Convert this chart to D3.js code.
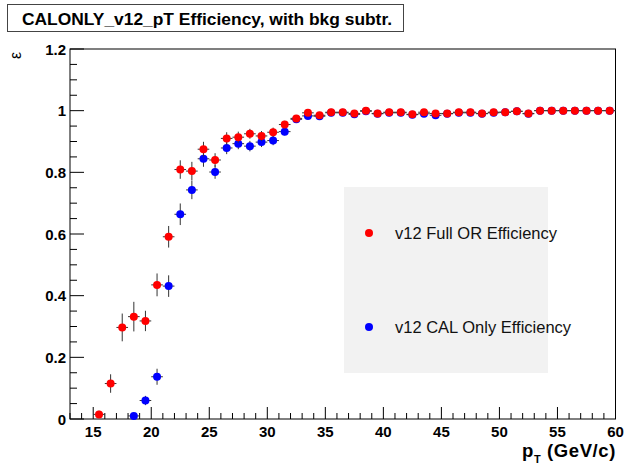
<!DOCTYPE html>
<html><head><meta charset="utf-8">
<script src="https://cdn.jsdelivr.net/npm/d3@7"></script>
<style>body{margin:0;background:#fff;} svg{display:block;}</style>
</head><body>
<script>
const ptBins = [15.5,16.5,17.5,18.5,19.5,20.5,21.5,22.5,23.5,24.5,25.5,26.5,27.5,28.5,29.5,30.5,31.5,32.5,33.5,34.5,35.5,36.5,37.5,38.5,39.5,40.5,41.5,42.5,43.5,44.5,45.5,46.5,47.5,48.5,49.5,50.5,51.5,52.5,53.5,54.5,55.5,56.5,57.5,58.5,59.5];
const fullOR = [0.015,0.115,0.297,0.332,0.318,0.435,0.591,0.809,0.804,0.875,0.840,0.910,0.914,0.925,0.918,0.930,0.955,0.975,0.993,0.985,0.995,0.995,0.991,1.000,0.991,0.995,0.995,0.988,0.995,0.991,0.991,0.995,0.995,0.991,0.995,0.995,0.998,0.991,1.000,1.000,1.000,1.000,1.000,1.000,1.000];
const fullORErr = [0.012,0.030,0.045,0.048,0.033,0.037,0.035,0.030,0.030,0.024,0.022,0.020,0.018,0.016,0.016,0.015,0.012,0.008,0.005,0.005,0.004,0.004,0.004,0.003,0.004,0.004,0.004,0.004,0.004,0.004,0.004,0.004,0.004,0.004,0.004,0.004,0.003,0.004,0.002,0.002,0.002,0.002,0.002,0.002,0.002];
const calOnly = [null,null,null,0.010,0.060,0.137,0.431,0.664,0.743,0.844,0.801,0.879,0.893,0.885,0.898,0.903,0.932,0.972,0.983,0.982,0.993,0.993,0.988,0.998,0.990,0.993,0.993,0.987,0.990,0.985,0.990,0.993,0.993,0.990,0.993,0.995,0.998,0.990,1.000,1.000,1.000,1.000,1.000,1.000,1.000];
const calOnlyErr = [0,0,0,0.008,0.015,0.026,0.035,0.035,0.030,0.026,0.022,0.020,0.018,0.017,0.016,0.015,0.012,0.008,0.006,0.006,0.004,0.004,0.004,0.003,0.004,0.004,0.004,0.004,0.004,0.004,0.004,0.004,0.004,0.004,0.004,0.004,0.003,0.004,0.002,0.002,0.002,0.002,0.002,0.002,0.002];
const xTickLabels = [15,20,25,30,35,40,45,50,55,60];
const yTickLabels = [0,0.2,0.4,0.6,0.8,1,1.2];
const seriesNames = ["v12 Full OR Efficiency","v12 CAL Only Efficiency"];
const titleText = "CALONLY_v12_pT Efficiency, with bkg subtr.";

const W = 624, H = 466;
const svg = d3.select("body").append("svg").attr("width", W).attr("height", H);
const x = d3.scaleLinear().domain([13, 60]).range([70, 615.5]);
const y = d3.scaleLinear().domain([0, 1.2]).range([419, 49]);
const font = "'Liberation Sans', Arial, Helvetica, sans-serif";

// frame
svg.append("rect").attr("x", 70).attr("y", 49).attr("width", 545.5).attr("height", 370)
  .attr("fill", "none").attr("stroke", "#000").attr("stroke-width", 1);

// legend box
svg.append("rect").attr("x", 344).attr("y", 187).attr("width", 204).attr("height", 186).attr("fill", "#f2f2f2");

// x axis ticks
const gx = svg.append("g");
d3.range(13, 61, 1).forEach(v => {
  const major = v % 5 === 0;
  gx.append("line").attr("x1", x(v)).attr("x2", x(v)).attr("y1", 419).attr("y2", 419 - (major ? 12 : 6))
    .attr("stroke", "#000").attr("stroke-width", 1);
});
gx.selectAll("text.xl").data(xTickLabels).enter().append("text")
  .attr("x", d => x(d)).attr("y", 436.5).attr("text-anchor", "middle")
  .attr("font-family", font).attr("font-weight", "bold").attr("font-size", 15).text(d => d);

// y axis ticks
const gy = svg.append("g");
d3.range(0, 25, 1).forEach(i => {
  const v = i * 0.05;
  const major = i % 4 === 0;
  gy.append("line").attr("x1", 70).attr("x2", 70 + (major ? 14 : 7)).attr("y1", y(v)).attr("y2", y(v))
    .attr("stroke", "#000").attr("stroke-width", 1);
});
gy.selectAll("text.yl").data(yTickLabels).enter().append("text")
  .attr("x", 66).attr("y", d => y(d) + 5.5).attr("text-anchor", "end")
  .attr("font-family", font).attr("font-weight", "bold").attr("font-size", 15).text(d => d);

// series
function drawSeries(vals, errs, color) {
  const g = svg.append("g");
  const data = ptBins.map((p, i) => ({p, v: vals[i], e: errs[i]})).filter(d => d.v !== null);
  g.selectAll("line.h").data(data).enter().append("line")
    .attr("x1", d => x(d.p - 0.5)).attr("x2", d => x(d.p + 0.5))
    .attr("y1", d => y(d.v)).attr("y2", d => y(d.v)).attr("stroke", "#333").attr("stroke-width", 1);
  g.selectAll("line.v").data(data).enter().append("line")
    .attr("x1", d => x(d.p)).attr("x2", d => x(d.p))
    .attr("y1", d => y(d.v - d.e)).attr("y2", d => y(d.v + d.e)).attr("stroke", "#333").attr("stroke-width", 1);
  g.selectAll("circle").data(data).enter().append("circle")
    .attr("cx", d => x(d.p)).attr("cy", d => y(d.v)).attr("r", 4).attr("fill", color);
}
drawSeries(calOnly, calOnlyErr, "#0000ff");
drawSeries(fullOR, fullORErr, "#ff0000");

// legend entries
const legColors = ["#ff0000", "#0000ff"];
const legY = [233, 327];
seriesNames.forEach((n, i) => {
  svg.append("circle").attr("cx", 369).attr("cy", legY[i]).attr("r", 4).attr("fill", legColors[i]);
  svg.append("text").attr("x", 395).attr("y", legY[i] + 6).attr("font-family", font)
    .attr("font-size", 16.5).attr("fill", "#111").text(n);
});

// title box
svg.append("rect").attr("x", 7.5).attr("y", 4.5).attr("width", 396).attr("height", 27)
  .attr("fill", "#fff").attr("stroke", "#444").attr("stroke-width", 1);
svg.append("text").attr("x", 207).attr("y", 24.5).attr("text-anchor", "middle")
  .attr("font-family", font).attr("font-weight", "bold").attr("font-size", 17.4).text(titleText);

// y axis title (epsilon, rotated)
svg.append("text").attr("transform", "translate(21,55.5) rotate(-90)").attr("text-anchor", "middle")
  .attr("font-family", font).attr("font-size", 16).text("ε");

// x axis title
const xt = svg.append("text").attr("x", 616).attr("y", 456.5).attr("text-anchor", "end")
  .attr("font-family", font).attr("font-weight", "bold").attr("font-size", 18.5).attr("letter-spacing", 0.6);
xt.append("tspan").text("p");
xt.append("tspan").attr("font-size", 11).attr("dy", 6.5).text("T");
xt.append("tspan").attr("dy", -6.5).text(" (GeV/c)");
</script>
</body></html>
